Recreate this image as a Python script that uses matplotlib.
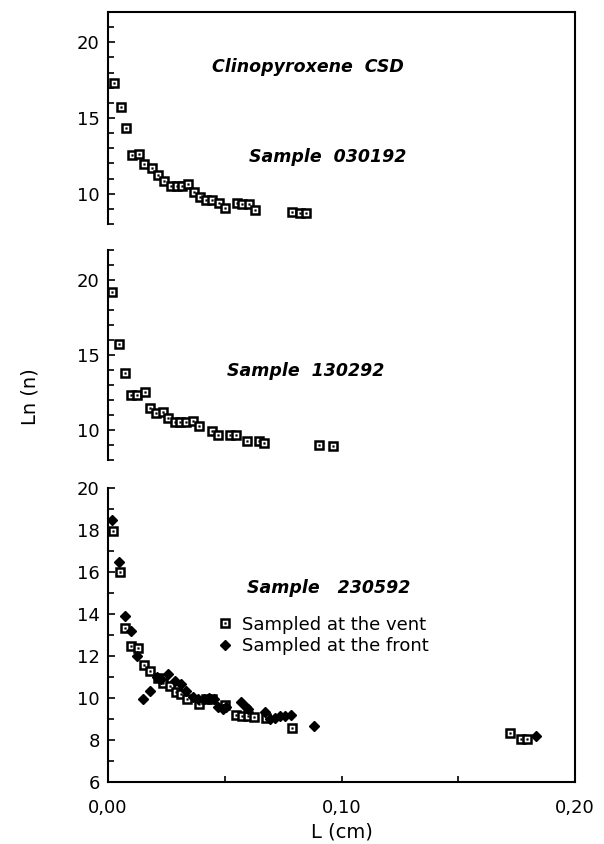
import matplotlib
matplotlib.use("Agg")
import matplotlib.pyplot as plt
from matplotlib.lines import Line2D
from matplotlib.ticker import MultipleLocator, FixedLocator
from matplotlib.legend_handler import HandlerTuple

plt.rcParams['font.family'] = 'DejaVu Sans'
plt.rcParams['font.size'] = 13
plt.rcParams['xtick.direction'] = 'in'
plt.rcParams['ytick.direction'] = 'in'

# sample 030192
L_030192 = [0.0026, 0.0055, 0.0079, 0.0103, 0.0132, 0.0156, 0.0188, 0.0216, 0.0239,
            0.0271, 0.0295, 0.0318, 0.0343, 0.0369, 0.0393, 0.0420, 0.0446, 0.0476,
            0.0502, 0.0551, 0.0576, 0.0602, 0.0628, 0.0787, 0.0823, 0.0849]
ln_030192 = [17.3, 15.72, 14.32, 12.54, 12.63, 11.97, 11.68, 11.26, 10.86,
             10.51, 10.51, 10.51, 10.62, 10.11, 9.80, 9.58, 9.58, 9.36,
             9.05, 9.38, 9.29, 9.29, 8.92, 8.81, 8.74, 8.74]

# sample 130292
L_130292 = [0.0016, 0.0046, 0.0073, 0.0099, 0.0126, 0.0158, 0.0182, 0.0206, 0.0234,
            0.0258, 0.0285, 0.0310, 0.0335, 0.0363, 0.0388, 0.0446, 0.0473, 0.0522,
            0.0548, 0.0595, 0.0646, 0.0670, 0.0905, 0.0965]
ln_130292 = [19.19, 15.74, 13.82, 12.36, 12.36, 12.56, 11.48, 11.11, 11.19,
             10.79, 10.55, 10.55, 10.55, 10.62, 10.24, 9.91, 9.69, 9.69,
             9.69, 9.27, 9.25, 9.12, 9.03, 8.92]

# sample 230592, sampled at the vent
L_vent = [0.0022, 0.0050, 0.0073, 0.0099, 0.0128, 0.0154, 0.0182, 0.0214, 0.0235,
          0.0264, 0.0290, 0.0313, 0.0340, 0.0388, 0.0418, 0.0444, 0.0501, 0.0549,
          0.0575, 0.0600, 0.0626, 0.0678, 0.0786, 0.1720, 0.1770, 0.1794]
ln_vent = [17.97, 16.0, 13.34, 12.47, 12.39, 11.58, 11.29, 10.94, 10.73,
           10.57, 10.29, 10.21, 9.97, 9.70, 9.94, 9.94, 9.67, 9.18,
           9.12, 9.15, 9.10, 9.04, 8.56, 8.33, 8.03, 8.03]

# sample 230592, sampled at the front
L_front = [0.0017, 0.0046, 0.0072, 0.0098, 0.0125, 0.0151, 0.0182, 0.0208, 0.0229,
           0.0259, 0.0286, 0.0313, 0.0336, 0.0362, 0.0384, 0.0409, 0.0434, 0.0456,
           0.0470, 0.0491, 0.0506, 0.0570, 0.0592, 0.0599, 0.0671, 0.0693, 0.0714,
           0.0736, 0.0757, 0.0783, 0.0884, 0.1832]
ln_front = [18.5, 16.5, 13.9, 13.2, 12.0, 9.94, 10.33, 11.02, 10.92,
            11.13, 10.81, 10.68, 10.33, 10.07, 9.97, 9.97, 10.02, 9.94,
            9.55, 9.46, 9.55, 9.81, 9.55, 9.46, 9.34, 8.99, 9.07,
            9.12, 9.12, 9.18, 8.67, 8.17]

x_ticks = [0.0, 0.1, 0.2]
x_ticklabels = ['0,00', '0,10', '0,20']

W, H = 604, 844
fig = plt.figure(figsize=(W / 100, H / 100), dpi=100)

def px_axes(x0, y0, x1, y1):
    return fig.add_axes([x0 / W, 1 - y1 / H, (x1 - x0) / W, (y1 - y0) / H])

ax1 = px_axes(108, 12, 575, 224)
ax2 = px_axes(108, 250, 575, 460)
ax3 = px_axes(108, 488, 575, 782)

def squares(ax, x, y):
    sq, = ax.plot(x, y, ls='none', marker='s', ms=6.2, mfc='white', mec='black', mew=1.8)
    dot, = ax.plot(x, y, ls='none', marker='s', ms=1.2, mfc='black', mec='black', mew=0.3)
    return sq, dot

for ax in (ax1, ax2, ax3):
    ax.set_xlim(0, 0.2)
    ax.spines['right'].set_visible(False)
    ax.spines['left'].set_linewidth(1.5)
    ax.tick_params(axis='y', which='both', left=True, width=1.2, pad=6)
    ax.tick_params(axis='y', which='major', length=5)
    ax.tick_params(axis='y', which='minor', length=4)
    ax.yaxis.set_minor_locator(MultipleLocator(1))

for ax in (ax1, ax2):
    ax.set_ylim(8, 22)
    ax.yaxis.set_major_locator(FixedLocator([10, 15, 20]))
    ax.spines['bottom'].set_visible(False)
    ax.spines['top'].set_visible(False)
    ax.set_xticks([])

ax1.spines['top'].set_visible(True)
ax1.spines['top'].set_linewidth(1.5)

squares(ax1, L_030192, ln_030192)
squares(ax2, L_130292, ln_130292)

ax1.text(0.223, 0.741, 'Clinopyroxene  CSD', transform=ax1.transAxes,
         style='italic', weight='bold', fontsize=12.5, va='center', ha='left')
ax1.text(0.302, 0.316, 'Sample  030192', transform=ax1.transAxes,
         style='italic', weight='bold', fontsize=12.5, va='center', ha='left')
ax2.text(0.255, 0.424, 'Sample  130292', transform=ax2.transAxes,
         style='italic', weight='bold', fontsize=12.5, va='center', ha='left')

# bottom panel
ax3.set_ylim(6, 20)
ax3.yaxis.set_major_locator(MultipleLocator(2))
ax3.spines['top'].set_visible(False)
ax3.spines['bottom'].set_linewidth(1.5)
ax3.set_xticks(x_ticks)
ax3.set_xticklabels(x_ticklabels)
ax3.xaxis.set_minor_locator(MultipleLocator(0.05))
ax3.tick_params(axis='x', which='both', length=4, width=1.2, pad=12)

vent = squares(ax3, L_vent, ln_vent)
front, = ax3.plot(L_front, ln_front, ls='none', marker='D', ms=5, color='black')

ax3.text(0.298, 0.66, 'Sample   230592', transform=ax3.transAxes,
         style='italic', weight='bold', fontsize=12.5, va='center', ha='left')
ax3.legend([vent, front], ['Sampled at the vent', 'Sampled at the front'],
           handler_map={tuple: HandlerTuple(ndivide=1)},
           loc='upper left', bbox_to_anchor=(0.215, 0.59), frameon=False,
           handlelength=1.0, handletextpad=0.45, labelspacing=0.2,
           borderaxespad=0, fontsize=13)
ax3.set_xlabel('L (cm)', fontsize=14, labelpad=4)

# right border running through all three panels
fig.add_artist(Line2D([575 / W, 575 / W], [1 - 12 / H, 1 - 782 / H],
                      color='black', lw=1.5))

fig.text(30 / W, 1 - 397 / H, 'Ln (n)', rotation=90, fontsize=14,
         ha='center', va='center')

fig.savefig('out.png', dpi=100)
